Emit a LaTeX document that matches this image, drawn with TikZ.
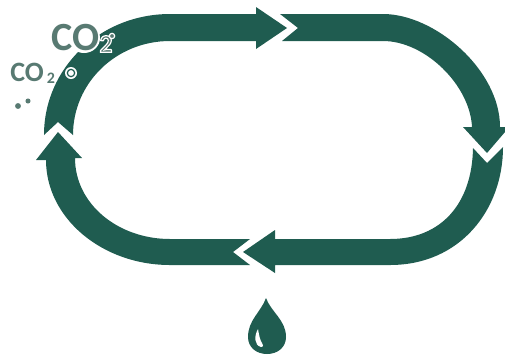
\documentclass[tikz,border=0pt]{standalone}
\usepackage{fontspec}
\setmainfont{Carlito}
\definecolor{band}{HTML}{1F5C50}
\definecolor{cotext}{HTML}{587A72}
\newcommand{\whiteoutline}[1]{\special{pdf:code 2 Tr 0.9 w 1 1 1 RG}#1\special{pdf:code 0 Tr}}
\tikzset{x=0.75pt,y=-0.75pt,
  seg/.style={fill=band,draw=none},
  bigco/.style={text=cotext,font=\fontsize{30pt}{30pt}\selectfont\bfseries,inner sep=0pt},
  smallco/.style={text=cotext,font=\fontsize{21pt}{21pt}\selectfont\bfseries,inner sep=0pt},
  subsc/.style={text=cotext,font=\fontsize{12pt}{12pt}\selectfont\bfseries,inner sep=0pt},
  bubble/.style={circle,draw=band,fill=white,line width=0.9pt,minimum size=5.5pt,inner sep=0pt},
  dotmark/.style={circle,fill=cotext,minimum size=4.4pt,inner sep=0pt}}
\begin{document}
\begin{tikzpicture}
\useasboundingbox (0,0) rectangle (505,358);
% top-left segment
\fill[seg] (44,135) .. controls (44,68) and (100,14) .. (170,14) -- (256,14) -- (256,7) -- (287,28) -- (256,49) -- (256,41) -- (170,41)
  .. controls (116,41) and (73,83) .. (73,135) -- (58,122) -- cycle;
% top-right segment
\fill[seg] (280,14) -- (383,14) .. controls (435,14) and (500,70) .. (500,127) -- (505,127) -- (505,132) -- (487,153) -- (463,127) -- (472,127)
  .. controls (470,85) and (425,41) .. (383,41) -- (282,41) -- (298,28) -- cycle;
% bottom-right segment
\fill[seg] (473,148) -- (487,163) -- (503,147) .. controls (503,210) and (460,265) .. (390,265) -- (275,265) -- (275,273) -- (243,252) -- (275,230) -- (275,239) -- (390,239)
  .. controls (440,239) and (472,205) .. (473,148) -- cycle;
% bottom-left segment
\fill[seg] (250,239) -- (170,239) .. controls (118,239) and (75,204) .. (75,158) -- (82,158) -- (58,132) -- (36,160) -- (46,160)
  .. controls (46,218) and (102,265) .. (170,265) -- (250,265) -- (233,252) -- cycle;
% CO2 marks
\fill[white] (84,38) ellipse [x radius=16, y radius=15];
\node[bigco,anchor=west] (co) at (51,38) {CO};
\node[font=\fontsize{19pt}{19pt}\selectfont\bfseries,inner sep=0pt,text=cotext] (two) at (106,44) {\whiteoutline{2}};
\node[smallco,anchor=west] (coo) at (10,72) {CO};
\node[subsc] (twob) at (51,78) {2};
\fill[white] (71,73) circle [radius=6];
\node[bubble] (b1) at (71,73) {};
\node[bubble,minimum size=4pt,line width=0.9pt,draw=white,fill=cotext] (b2) at (112,36) {};
\node[dotmark] (d1) at (18,106) {};
\node[dotmark,minimum size=3.8pt] (d2) at (28,101) {};
% drop
\fill[band] (266,298) .. controls (261,312) and (248,320) .. (248,337) .. controls (248,347) and (256,354) .. (267,354) .. controls (278,354) and (286,347) .. (286,337) .. controls (286,320) and (271,312) .. (266,298) -- cycle;
\fill[white] (258,329) .. controls (254,336) and (254,345) .. (261,347) .. controls (264,347) and (263,344) .. (262,343) .. controls (260,340) and (259,335) .. (258,329) -- cycle;
\end{tikzpicture}
\end{document}
